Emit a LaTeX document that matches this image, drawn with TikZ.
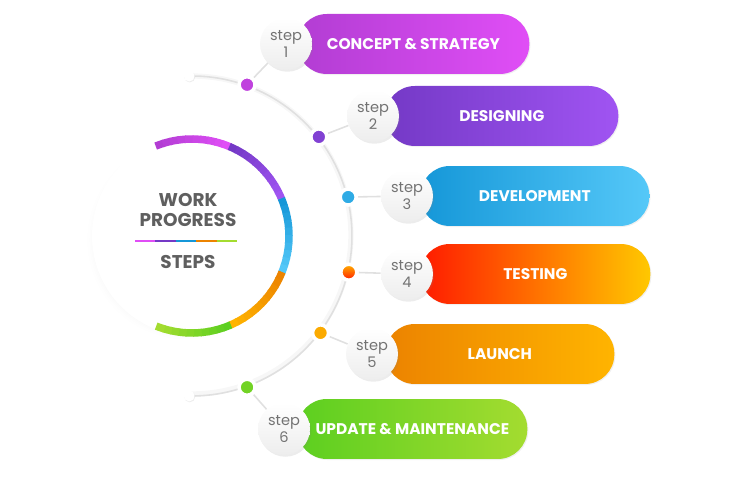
\documentclass[tikz,border=0pt]{standalone}
\usepackage{fontspec}
\setmainfont{Poppins}
\usetikzlibrary{calc,shadows,backgrounds}

\definecolor{magA}{HTML}{B23DD3}
\definecolor{magB}{HTML}{E04EF6}
\definecolor{purA}{HTML}{7439C6}
\definecolor{purB}{HTML}{A054F2}
\definecolor{bluA}{HTML}{1597D8}
\definecolor{bluB}{HTML}{55C8F8}
\definecolor{redA}{HTML}{FF1A00}
\definecolor{redB}{HTML}{FFC800}
\definecolor{oraA}{HTML}{EC8300}
\definecolor{oraB}{HTML}{FFB400}
\definecolor{grnA}{HTML}{5CCF20}
\definecolor{grnB}{HTML}{A4DC30}
\definecolor{txtgray}{HTML}{5F5F5F}

% one coloured piece of the ring, fading from #3 to #4 in small steps
\newcommand{\ringpart}[4]{%
  \foreach \k in {0,...,9}{%
    \pgfmathsetmacro{\angA}{#1+(#2-#1)*\k/10}
    \pgfmathsetmacro{\angB}{#1+(#2-#1)*(\k+1.15)/10}
    \pgfmathtruncatemacro{\mix}{100-\k*11}
    \draw[ring,#3!\mix!#4] ($(hub.center)+(\angA:1.94cm)$) arc[start angle=\angA, end angle=\angB, radius=1.94cm];
  }
}

\begin{document}
\begin{tikzpicture}[x=0.02cm,y=0.02cm,
    pill/.style={anchor=west,minimum height=1.2cm,rounded corners=0.59cm,inner sep=0pt,text=white,
      font=\bfseries\fontsize{8.8}{10}\selectfont,drop shadow={opacity=0.12,shadow xshift=0.6pt,shadow yshift=-0.6pt}},
    stepball/.style={circle,minimum size=1.04cm,inner sep=0pt,top color=white,bottom color=black!7,align=center,
      text=black!55,font=\fontsize{8.3}{9.5}\selectfont,drop shadow={opacity=0.15,shadow xshift=0.8pt,shadow yshift=-1pt}},
    stepdot/.style={circle,minimum size=0.32cm,inner sep=0pt,draw=white,line width=0.7mm,
      drop shadow={opacity=0.18,shadow xshift=0.3pt,shadow yshift=-0.5pt}},
    nub/.style={circle,fill=white,minimum size=0.22cm,inner sep=0pt,
      drop shadow={opacity=0.15,shadow xshift=0.3pt,shadow yshift=-0.5pt}},
    link/.style={black!12,line width=0.9pt},
    ring/.style={line width=0.15cm},
    bar/.style={line width=1.2pt}]

    \useasboundingbox (0,0) rectangle (750,500);

    % hub
    \node (hub) [circle,fill=white,minimum size=4cm,inner sep=0pt,
      circular drop shadow={opacity=0.08,shadow scale=1.0,shadow xshift=-3pt,shadow yshift=-2pt}] at (192,264) {};

    \ringpart{112}{67.4}{magA}{magB}
    \ringpart{67.4}{22.8}{purA}{purB}
    \ringpart{22.8}{-21.8}{bluA}{bluB}
    \ringpart{-21.8}{-66.4}{oraA}{oraB}
    \ringpart{-66.4}{-111}{grnA}{grnB}

    \node (work) [align=center,text=txtgray,font=\bfseries\fontsize{10.5}{11.5}\selectfont] at (188,290) {WORK\\PROGRESS};
    \node (steps) [text=txtgray,font=\bfseries\fontsize{10.5}{11.5}\selectfont] at (188,238) {STEPS};

    \draw[bar,magB] (135,259) -- (155.4,259);
    \draw[bar,purA] (155.4,259) -- (175.8,259);
    \draw[bar,bluA] (175.8,259) -- (196.2,259);
    \draw[bar,oraA] (196.2,259) -- (216.6,259);
    \draw[bar,grnB] (216.6,259) -- (237,259);

    % pills
    \node (p1) [pill,minimum width=4.64cm,left color=magA,middle color=magB!85!magA,right color=magB] at (297,456) {CONCEPT \& STRATEGY};
    \node (p2) [pill,minimum width=4.66cm,left color=purA,middle color=purB!80!purA,right color=purB] at (385,384) {DESIGNING};
    \node (p3) [pill,minimum width=4.58cm,left color=bluA,middle color=bluB!75!bluA,right color=bluB] at (420,304) {DEVELOPMENT};
    \node (p4) [pill,minimum width=4.60cm,left color=redA,middle color=orange!70!redA,right color=redB] at (420,226) {TESTING};
    \node (p5) [pill,minimum width=4.58cm,left color=oraA,middle color=oraB!85!oraA,right color=oraB] at (385,146) {LAUNCH};
    \node (p6) [pill,minimum width=4.60cm,left color=grnA,middle color=grnB!60!grnA,right color=grnB] at (297,71) {UPDATE \& MAINTENANCE};

    % step balls
    \node (s1) [stepball] at (286,456) {step\\1};
    \node (s2) [stepball] at (373,384) {step\\2};
    \node (s3) [stepball] at (407,304) {step\\3};
    \node (s4) [stepball] at (407,226) {step\\4};
    \node (s5) [stepball] at (372,146) {step\\5};
    \node (s6) [stepball] at (284,71) {step\\6};

    % dots on the outer arc
    \node (d1) [stepdot,fill=magA!70!magB] at ($(hub.center)+(70:3.22cm)$) {};
    \node (d2) [stepdot,fill=purA!70!purB] at ($(hub.center)+(38:3.22cm)$) {};
    \node (d3) [stepdot,fill=bluA!60!bluB] at ($(hub.center)+(14:3.22cm)$) {};
    \node (d4) [stepdot,top color=oraB,bottom color=redA] at ($(hub.center)+(-13:3.22cm)$) {};
    \node (d5) [stepdot,fill=oraB!80!oraA] at ($(hub.center)+(-37:3.22cm)$) {};
    \node (d6) [stepdot,fill=grnA!70!grnB] at ($(hub.center)+(-70:3.22cm)$) {};

    \node (n1) [nub] at ($(hub.center)+(91:3.2cm)$) {};
    \node (n2) [nub] at ($(hub.center)+(-91:3.2cm)$) {};

    \begin{scope}[on background layer]
        \draw[black!3,line width=3pt] (n1.center) arc[start angle=91, end angle=-91, radius=3.18cm];
        \draw[link] (n1.center) arc[start angle=91, end angle=-91, radius=3.2cm];
        \path[link]
            (d1) edge (s1)
            (d2) edge (s2)
            (d3) edge (s3)
            (d4) edge (s4)
            (d5) edge (s5)
            (d6) edge (s6)
        ;
    \end{scope}
\end{tikzpicture}
\end{document}
